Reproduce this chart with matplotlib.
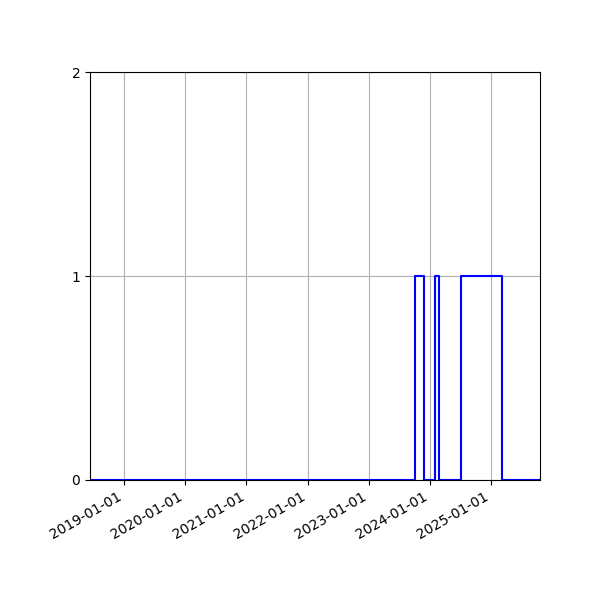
import matplotlib
matplotlib.use("Agg")
import matplotlib.pyplot as plt
import matplotlib.dates as mdates
from datetime import datetime

# Zeitpunkte der Zustandswechsel und Werte (step, where="post")
dates = ["2018-06-12", "2023-10-05", "2023-11-24", "2024-01-31",
         "2024-02-25", "2024-07-06", "2025-03-09", "2025-10-19"]
values = [0, 1, 0, 1, 0, 1, 0, 0]
x_start = "2018-06-12"
x_end = "2025-10-19"
y_ticks = [0, 1, 2]

x_values = [datetime.strptime(d, "%Y-%m-%d") for d in dates]

fig, ax = plt.subplots(figsize=(6, 6), dpi=100)
ax.step(x_values, values, where="post", color="blue")
ax.set_xlim(datetime.strptime(x_start, "%Y-%m-%d"), datetime.strptime(x_end, "%Y-%m-%d"))
ax.set_ylim(0, 2)
ax.set_yticks(y_ticks)
ax.xaxis.set_major_locator(mdates.YearLocator())
ax.xaxis.set_major_formatter(mdates.DateFormatter("%Y-%m-%d"))
ax.grid(True)
fig.autofmt_xdate()
fig.subplots_adjust(left=0.15, right=0.9, top=0.88, bottom=0.2)
fig.savefig("out.png")
